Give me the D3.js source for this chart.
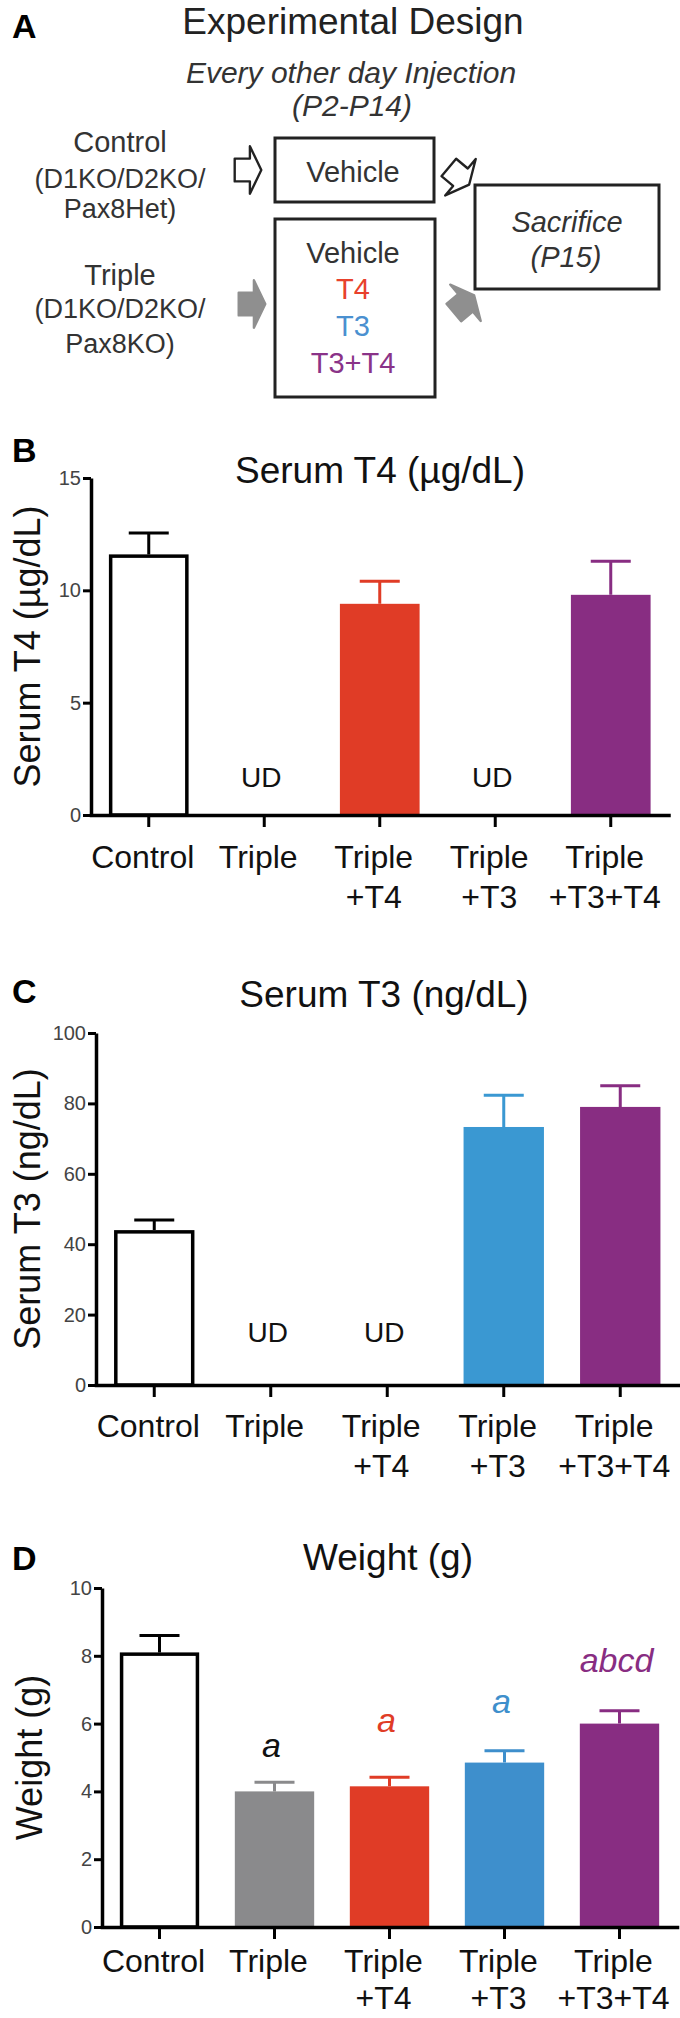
<!DOCTYPE html>
<html lang="en">
<head>
<meta charset="UTF-8">
<title>Thyroid hormone rescue</title>
<style>
  body { margin: 0; background: #fff; }
  svg text { font-family: "Liberation Sans", Arial, Helvetica, sans-serif; }
</style>
</head>
<body>
<div id="fig"></div>
<script src="https://d3js.org/d3.v7.min.js"></script>
<script>
// ---- data ----
const groups = ["Control", "Triple", "Triple+T4", "Triple+T3", "Triple+T3+T4"];
const groupLines = [["Control"], ["Triple"], ["Triple", "+T4"], ["Triple", "+T3"], ["Triple", "+T3+T4"]];
const groupColors = ["#ffffff", "#8a8a8c", "#e03c26", "#3a98d2", "#882d82"];

const t4Mean = [11.6, null, 9.4, null, 9.8];
const t4Err = [0.95, null, 1.0, null, 1.5];
const t4Ticks = [0, 5, 10, 15];

const t3Mean = [44, null, null, 73.3, 79];
const t3Err = [2.9, null, null, 9, 6];
const t3Ticks = [0, 20, 40, 60, 80, 100];

const wMean = [8.1, 4.0, 4.15, 4.85, 6.0];
const wErr = [0.5, 0.27, 0.27, 0.35, 0.38];
const wTicks = [0, 2, 4, 6, 8, 10];
const wLetters = ["", "a", "a", "a", "abcd"];

// panel A text
const cohorts = [["Control", "(D1KO/D2KO/", "Pax8Het)"], ["Triple", "(D1KO/D2KO/", "Pax8KO)"]];
const treatments = ["Vehicle", "T4", "T3", "T3+T4"];
const treatColors = ["#333", "#e8412c", "#4a90d0", "#8a3388"];

const svg = d3.select("#fig").append("svg")
  .attr("width", 680).attr("height", 2018);

// ---- panel A ----
const A = svg.append("g");
A.append("text").attr("x", 12).attr("y", 38).attr("font-size", 34).attr("font-weight", "bold").text("A");
A.append("text").attr("x", 353).attr("y", 34).attr("text-anchor", "middle")
  .attr("font-size", 37).attr("fill", "#222").text("Experimental Design");
A.append("text").attr("x", 351).attr("y", 83).attr("text-anchor", "middle")
  .attr("font-size", 30).attr("font-style", "italic").attr("fill", "#333").text("Every other day Injection");
A.append("text").attr("x", 352).attr("y", 116).attr("text-anchor", "middle")
  .attr("font-size", 30).attr("font-style", "italic").attr("fill", "#333").text("(P2-P14)");

const cohortY = [[152, 188, 218], [285, 318, 353]];
cohorts.forEach((lines, i) => {
  lines.forEach((t, j) => {
    A.append("text").attr("x", 120).attr("y", cohortY[i][j]).attr("text-anchor", "middle")
      .attr("font-size", j == 0 ? 29 : 27).attr("fill", "#333").text(t);
  });
});

A.selectAll("rect.box").data([[275, 138, 159, 64], [275, 219, 160, 178], [475, 185, 184, 104]])
  .join("rect").attr("class", "box")
  .attr("x", d => d[0]).attr("y", d => d[1]).attr("width", d => d[2]).attr("height", d => d[3])
  .attr("fill", "none").attr("stroke", "#222").attr("stroke-width", 3);

A.append("text").attr("x", 353).attr("y", 182).attr("text-anchor", "middle")
  .attr("font-size", 29).attr("fill", "#333").text("Vehicle");
const treatY = [263, 299, 336, 373];
treatments.forEach((t, i) => {
  A.append("text").attr("x", 353).attr("y", treatY[i]).attr("text-anchor", "middle")
    .attr("font-size", 29).attr("fill", treatColors[i]).text(t);
});
A.append("text").attr("x", 567).attr("y", 232).attr("text-anchor", "middle")
  .attr("font-size", 29).attr("font-style", "italic").attr("fill", "#333").text("Sacrifice");
A.append("text").attr("x", 566).attr("y", 267).attr("text-anchor", "middle")
  .attr("font-size", 29).attr("font-style", "italic").attr("fill", "#333").text("(P15)");

// block arrow pointing right, drawn around its centre
const arrowPath = "M-14,-12H2V-25L14,0L2,25V12H-14Z";
const arrows = [
  {x: 248, y: 170, r: 0, fill: "#fff", stroke: "#222"},
  {x: 252, y: 304, r: 0, fill: "#8f8f8f", stroke: "#8f8f8f"},
  {x: 459, y: 176, r: 40, fill: "#fff", stroke: "#222"},
  {x: 464, y: 304, r: -40, fill: "#8f8f8f", stroke: "#8f8f8f"}
];
A.selectAll("path.arrow").data(arrows).join("path").attr("class", "arrow")
  .attr("d", arrowPath)
  .attr("transform", d => `translate(${d.x},${d.y}) rotate(${d.r}) scale(0.95)`)
  .attr("fill", d => d.fill).attr("stroke", d => d.stroke).attr("stroke-width", 2.5)
  .attr("stroke-linejoin", "round");

// ---- bar panels ----
function panel(o) {
  const g = svg.append("g");
  const x = d3.scaleBand().domain(groups)
    .range([o.x0, o.x0 + 5 * o.step]).paddingInner(0.31).paddingOuter(0.155);
  const y = d3.scaleLinear().domain([0, o.max]).range([o.y0, o.y1]);
  const bw = x.bandwidth();

  const rows = groups.map((name, i) => ({name, i, m: o.mean[i], e: o.err[i], c: o.colors[i]}))
    .filter(d => d.m != null);

  // error bars (upper half only)
  g.selectAll("path.err").data(rows).join("path").attr("class", "err")
    .attr("d", d => {
      const cx = x(d.name) + bw / 2;
      return `M${cx},${y(d.m)}V${y(d.m + d.e)}M${cx - 20},${y(d.m + d.e)}H${cx + 20}`;
    })
    .attr("stroke", d => d.i == 0 ? "#000" : d.c).attr("stroke-width", 3).attr("fill", "none");

  g.selectAll("rect.bar").data(rows).join("rect").attr("class", "bar")
    .attr("x", d => x(d.name) + (d.i == 0 ? 1.75 : 0))
    .attr("y", d => y(d.m) + (d.i == 0 ? 1.75 : 0))
    .attr("width", d => bw - (d.i == 0 ? 3.5 : 0))
    .attr("height", d => y(0) - y(d.m) - (d.i == 0 ? 1.75 : 0))
    .attr("fill", d => d.c)
    .attr("stroke", d => d.i == 0 ? "#000" : "none")
    .attr("stroke-width", 3.5);

  // y axis
  g.append("g").attr("transform", `translate(${o.x0},0)`)
    .call(d3.axisLeft(y).tickValues(o.ticks).tickSize(8).tickSizeOuter(0).tickPadding(2))
    .attr("font-family", null).attr("font-size", 20)
    .call(a => a.select(".domain").attr("stroke-width", 3.5))
    .call(a => a.selectAll(".tick line").attr("stroke-width", 3))
    .call(a => a.selectAll(".tick text").attr("fill", "#444"));

  // x axis
  g.append("g").attr("transform", `translate(0,${o.y0})`)
    .call(d3.axisBottom(x).tickSize(12).tickSizeOuter(0).tickFormat(""))
    .call(a => a.select(".domain").attr("stroke-width", 3.5).attr("stroke-linecap", "square"))
    .call(a => a.selectAll(".tick line").attr("stroke-width", 3));

  groups.forEach((name, i) => {
    const t = g.append("text").attr("text-anchor", "middle").attr("font-size", 32).attr("fill", "#111");
    groupLines[i].forEach((line, j) => {
      t.append("tspan").attr("x", x(name) + bw / 2 - 6)
        .attr("y", o.y0 + (j == 0 ? o.lab1 : o.lab2)).text(line);
    });
  });

  // undetectable groups
  groups.forEach((name, i) => {
    if (o.mean[i] == null) {
      g.append("text").attr("x", x(name) + bw / 2 - 3).attr("y", o.udY)
        .attr("text-anchor", "middle").attr("font-size", 28).attr("fill", "#111").text("UD");
    }
  });

  if (o.letters) {
    o.letters.forEach((s, i) => {
      if (!s) return;
      g.append("text").attr("x", x(groups[i]) + bw / 2 - 3).attr("y", y(o.mean[i] + o.err[i]) - o.letterGap[i])
        .attr("text-anchor", "middle").attr("font-size", 34).attr("font-style", "italic")
        .attr("fill", i == 1 ? "#111" : o.colors[i]).text(s);
    });
  }

  g.append("text").attr("x", 12).attr("y", o.panelY).attr("font-size", 34).attr("font-weight", "bold").text(o.panel);
  g.append("text").attr("x", o.titleX).attr("y", o.titleY).attr("text-anchor", "middle")
    .attr("font-size", 37).attr("fill", "#111").text(o.title);
  g.append("text").attr("transform", `translate(${o.ylabX},${(o.y0 + o.y1) / 2}) rotate(-90)`)
    .attr("text-anchor", "middle").attr("font-size", 36).attr("fill", "#111").text(o.ylabel);
}

panel({panel: "B", panelY: 462, title: "Serum T4 (\u00b5g/dL)", titleX: 380, titleY: 483,
  ylabel: "Serum T4 (\u00b5g/dL)", ylabX: 40,
  x0: 91, step: 115.5, y0: 815, y1: 478, max: 15, ticks: t4Ticks,
  mean: t4Mean, err: t4Err, colors: groupColors, lab1: 53, lab2: 93, udY: 787});

panel({panel: "C", panelY: 1003, title: "Serum T3 (ng/dL)", titleX: 384, titleY: 1007,
  ylabel: "Serum T3 (ng/dL)", ylabX: 40,
  x0: 96, step: 116.5, y0: 1385, y1: 1033, max: 100, ticks: t3Ticks,
  mean: t3Mean, err: t3Err, colors: groupColors, lab1: 52, lab2: 92, udY: 1342});

panel({panel: "D", panelY: 1570, title: "Weight (g)", titleX: 388, titleY: 1570,
  ylabel: "Weight (g)", ylabX: 42,
  x0: 102, step: 115, y0: 1927, y1: 1588, max: 10, ticks: wTicks,
  mean: wMean, err: wErr, colors: ["#ffffff", "#8a8a8c", "#e03c26", "#3e8fcc", "#882d82"],
  lab1: 45, lab2: 82, udY: 0,
  letters: wLetters, letterGap: [0, 25, 45, 38, 39]});
</script>
</body>
</html>
